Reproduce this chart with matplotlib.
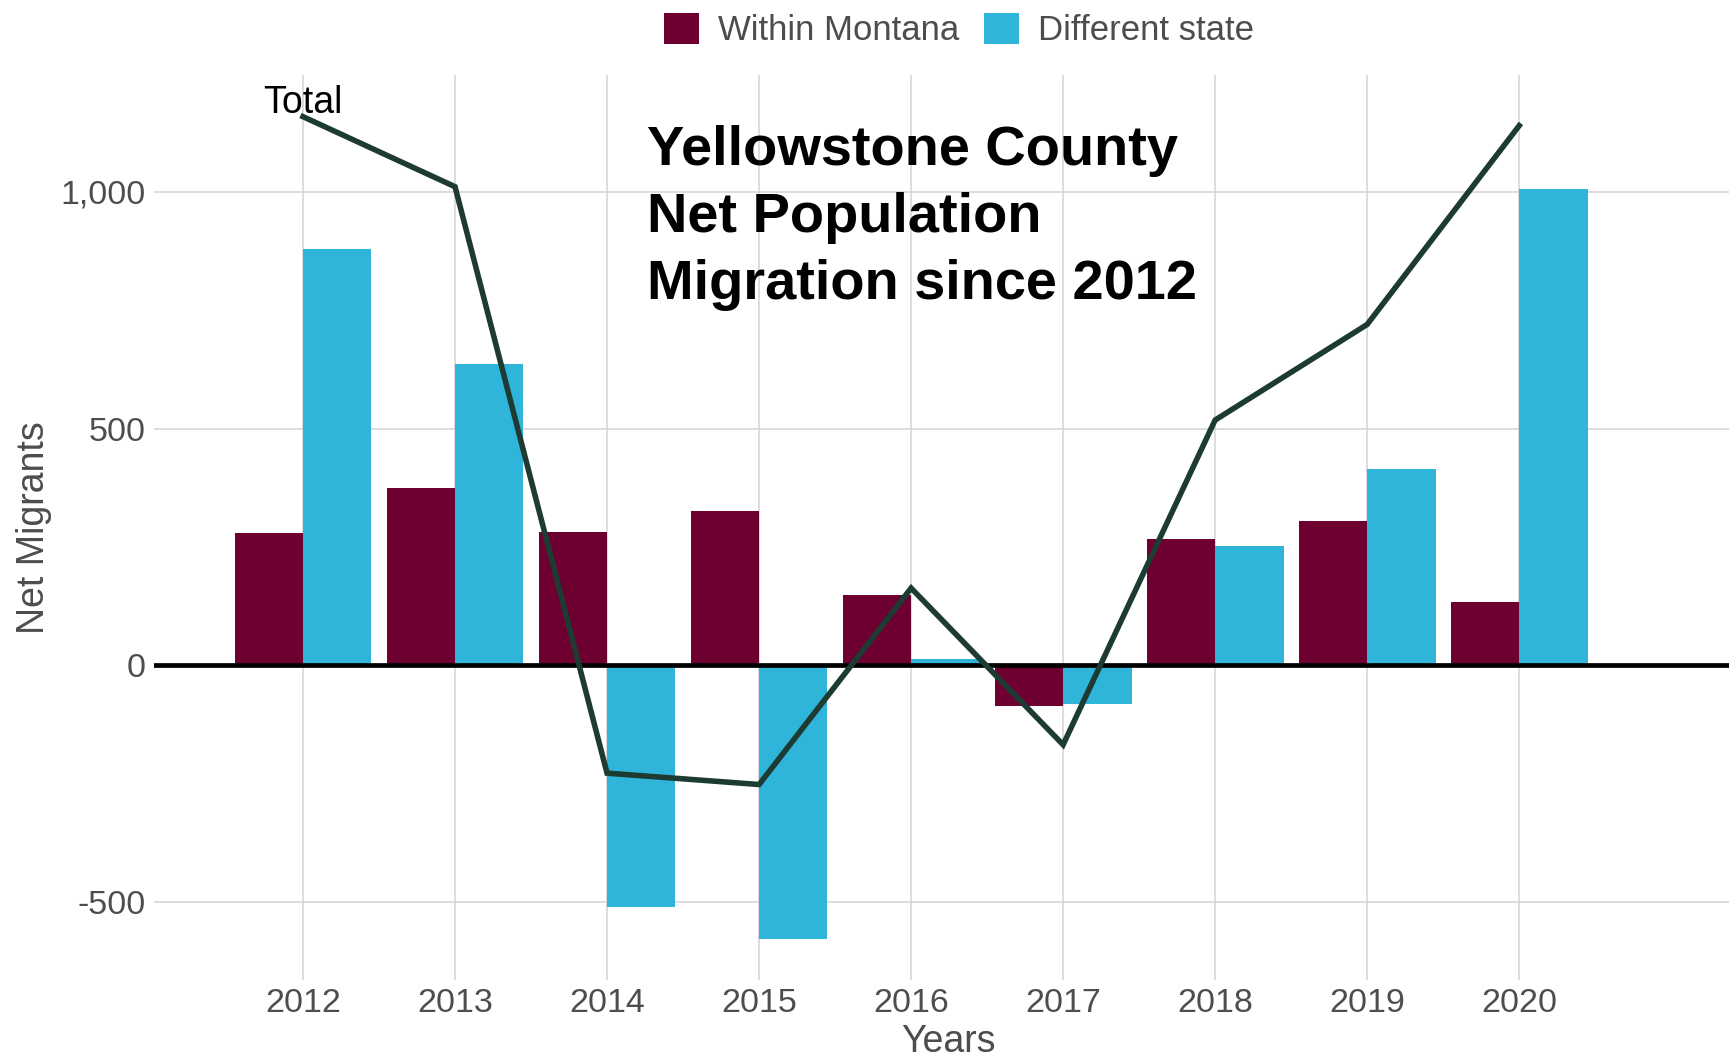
import matplotlib
matplotlib.use("Agg")
import matplotlib.pyplot as plt
from matplotlib.patches import Patch
import numpy as np

years = ["2012", "2013", "2014", "2015", "2016", "2017", "2018", "2019", "2020"]
within_montana = [280, 375, 282, 326, 149, -86, 266, 305, 133]
different_state = [879, 636, -510, -578, 14, -82, 252, 415, 1007]
total = [1159, 1011, -228, -252, 163, -168, 518, 720, 1140]
yticks = [-500, 0, 500, 1000]
ytick_labels = ["-500", "0", "500", "1,000"]

maroon = "#6D0030"
cyan = "#2EB5D9"
line_col = "#1D3B33"
gray_txt = "#4D4D4D"

plt.rcParams['font.family'] = ['Liberation Sans', 'DejaVu Sans']

W, H = 1729, 1060
fig = plt.figure(figsize=(W / 100, H / 100), dpi=100)
ax = fig.add_axes([154 / W, 80 / H, (W - 154) / W, (980 - 75) / H])

x = np.arange(len(years))
bw = 0.45
ax.bar(x - bw / 2, within_montana, width=bw, color=maroon, zorder=2, label="Within Montana")
ax.bar(x + bw / 2, different_state, width=bw, color=cyan, zorder=2, label="Different state")
ax.axhline(0, color="black", lw=3.4, zorder=3)
ax.plot(x, total, color=line_col, lw=4.0, zorder=4, solid_joinstyle='miter')
ax.text(x[0], total[0] + 8, "Total", ha="center", va="baseline", fontsize=27, color="black", zorder=5)

ax.set_xlim(-0.98, 9.38)
ax.set_ylim(-665, 1247)
ax.set_xticks(x)
ax.set_xticklabels(years)
ax.set_yticks(yticks)
ax.set_yticklabels(ytick_labels)
ax.tick_params(axis="both", length=0, labelsize=24.5, labelcolor=gray_txt)
ax.tick_params(axis="y", pad=6)
ax.tick_params(axis="x", pad=6)
ax.grid(True, color="#D3D3D3", lw=1.1, zorder=0)
ax.set_axisbelow(True)
for s in ax.spines.values():
    s.set_visible(False)

ax.set_xlabel("Years", fontsize=27, color=gray_txt)
ax.set_ylabel("Net Migrants", fontsize=27, color=gray_txt)
ax.xaxis.set_label_coords((948 - 154) / (W - 154), (980 - 1042) / 905)
ax.xaxis.label.set_va("center")
ax.yaxis.set_label_coords((34 - 154) / (W - 154), 0.5)
ax.yaxis.label.set_va("center")

title_lines = ["Yellowstone County", "Net Population", "Migration since 2012"]
baselines = [165, 232, 299]
for t, b in zip(title_lines, baselines):
    fig.text(647 / W, 1 - b / H, t, fontsize=40.3, fontweight="bold", color="black",
             ha="left", va="baseline")

handles = [Patch(facecolor=maroon, label="Within Montana"),
           Patch(facecolor=cyan, label="Different state")]
fig.legend(handles=handles, loc="center", bbox_to_anchor=(959 / W, 1 - 30 / H), ncol=2,
           frameon=False, fontsize=25, handlelength=1.0, handleheight=1.0,
           handletextpad=0.55, columnspacing=0.7, labelcolor=gray_txt, borderpad=0)

fig.savefig("out.png", dpi=100)
